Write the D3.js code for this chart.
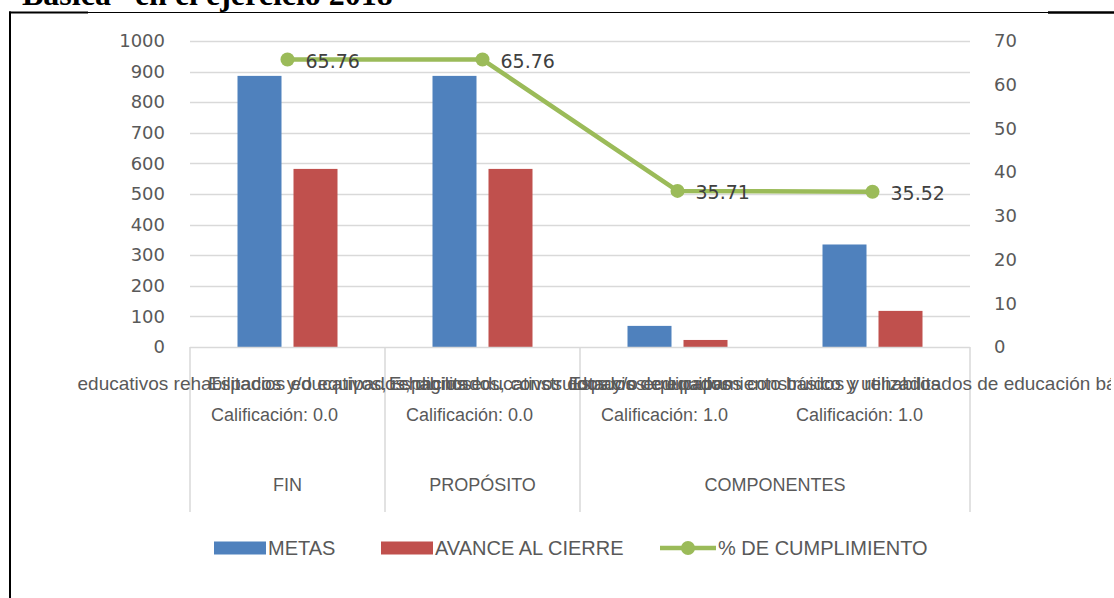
<!DOCTYPE html>
<html>
<head>
<meta charset="utf-8">
<script src="https://cdn.jsdelivr.net/npm/d3@7"></script>
<style>
  body { margin: 0; background: #fff; }
  svg text { font-family: "Liberation Sans", Arial, sans-serif; }
</style>
</head>
<body>
<div id="chart-area"></div>
<script>
/*  Metas vs avance - chart  */

// ---- data ----
var categories = ["c1", "c2", "c3", "c4"];
var catLabels = [
	"educativos rehabilitados y/o equipados, dignos",
	"Espacios educativos, rehabilitados, construidos y/o equipados",
	"Espacios educativos dotados de equipamiento básico y utilizados",
	"Espacios educativos construidos y rehabilitados de educación básica"
];
var catScores = ["Calificación: 0.0", "Calificación: 0.0", "Calificación: 1.0", "Calificación: 1.0"];
var groups = ["FIN", "PROPÓSITO", "COMPONENTES"];
var groupSpan = [1, 1, 2];
var metas = [886, 886, 69, 335];
var avance = [582, 582, 23, 118];
var cumplimiento = [65.76, 65.76, 35.71, 35.52];
var leftTicks = [0, 100, 200, 300, 400, 500, 600, 700, 800, 900, 1000];
var rightTicks = [0, 10, 20, 30, 40, 50, 60, 70];
var seriesNames = ["METAS", "AVANCE AL CIERRE", "% DE CUMPLIMIENTO"];
var colors = ["#4F81BD", "#C0504D", "#9BBB59"];

// ---- dimensions ----
var W = 1114, H = 598;
var plot = { left: 190, right: 970, top: 41, bottom: 347 };

var svg = d3.select("#chart-area")
	.append("svg")
		.attr("width", W)
		.attr("height", H);

svg.append("defs").append("clipPath")
	.attr("id", "clip")
	.append("rect")
		.attr("x", 12).attr("y", 0)
		.attr("width", 1099).attr("height", H);

// page frame / title bits
svg.append("text")
	.attr("x", 22)
	.attr("y", 5)
	.style("font-family", "'Liberation Serif', serif")
	.style("font-weight", "bold")
	.style("font-size", "32px")
	.attr("fill", "#000")
	.text("Básica” en el ejercicio 2018");

svg.append("line").attr("x1", 9).attr("x2", W).attr("y1", 12.5).attr("y2", 12.5)
	.attr("stroke", "#000").attr("stroke-width", 1);
svg.append("line").attr("x1", 9).attr("x2", 88).attr("y1", 12.5).attr("y2", 12.5)
	.attr("stroke", "#000").attr("stroke-width", 2);
svg.append("line").attr("x1", 1048).attr("x2", W).attr("y1", 12.5).attr("y2", 12.5)
	.attr("stroke", "#000").attr("stroke-width", 2.5);
svg.append("line").attr("x1", 10).attr("x2", 10).attr("y1", 11.5).attr("y2", H)
	.attr("stroke", "#000").attr("stroke-width", 2);

// ---- scales ----
var x = d3.scaleBand()
	.domain(categories)
	.range([plot.left, plot.right]);

// two bars of 44px, 12px apart, centred in each category
var x1 = d3.scaleBand()
	.domain([0, 1])
	.range([x.bandwidth() / 2 - 50, x.bandwidth() / 2 + 50])
	.paddingInner(12 / 56);

var y = d3.scaleLinear()
	.domain([0, 1000])
	.range([plot.bottom, plot.top]);

var y2 = d3.scaleLinear()
	.domain([0, 70])
	.range([plot.bottom, plot.top]);

// ---- gridlines ----
svg.append("g")
	.selectAll("line")
	.data(leftTicks.filter(function(d) { return d > 0; }))
	.enter().append("line")
		.attr("x1", plot.left)
		.attr("x2", plot.right)
		.attr("y1", function(d) { return Math.round(y(d)) + 0.5; })
		.attr("y2", function(d) { return Math.round(y(d)) + 0.5; })
		.attr("stroke", "#D9D9D9")
		.attr("stroke-width", 1.5);

// ---- axes ----
var yAxis = svg.append("g")
	.attr("transform", "translate(" + plot.left + ",0)")
	.call(d3.axisLeft(y).tickValues(leftTicks).tickFormat(d3.format("d")).tickSize(0).tickPadding(25));
yAxis.select(".domain").remove();
yAxis.selectAll("text")
	.attr("fill", "#595959")
	.style("font-family", "'DejaVu Sans', sans-serif")
	.style("font-size", "18px");

var yAxis2 = svg.append("g")
	.attr("transform", "translate(" + plot.right + ",0)")
	.call(d3.axisRight(y2).tickValues(rightTicks).tickSize(0).tickPadding(24));
yAxis2.select(".domain").remove();
yAxis2.selectAll("text")
	.attr("fill", "#595959")
	.style("font-family", "'DejaVu Sans', sans-serif")
	.style("font-size", "18px");

// ---- bars ----
var series = [metas, avance];
series.forEach(function(vals, s) {
	svg.append("g")
		.selectAll("rect")
		.data(vals)
		.enter().append("rect")
			.attr("x", function(d, i) { return x(categories[i]) + x1(s); })
			.attr("width", x1.bandwidth())
			.attr("y", function(d) { return y(d); })
			.attr("height", function(d) { return plot.bottom - y(d); })
			.attr("fill", colors[s]);
});

// ---- category axis (multi-level) ----
var axisG = svg.append("g");
axisG.append("line")
	.attr("x1", plot.left).attr("x2", plot.right)
	.attr("y1", plot.bottom + 0.5).attr("y2", plot.bottom + 0.5)
	.attr("stroke", "#D9D9D9").attr("stroke-width", 1.5);

var bounds = [0];
groupSpan.reduce(function(acc, n) { bounds.push(acc + n); return acc + n; }, 0);
axisG.selectAll(".sep")
	.data(bounds)
	.enter().append("line")
		.attr("class", "sep")
		.attr("x1", function(d) { return plot.left + d * x.bandwidth(); })
		.attr("x2", function(d) { return plot.left + d * x.bandwidth(); })
		.attr("y1", plot.bottom)
		.attr("y2", 512)
		.attr("stroke", "#D9D9D9")
		.attr("stroke-width", 1.5);

// long inner labels overflow and run into each other, as in the original
var labelG = axisG.append("g").attr("clip-path", "url(#clip)");
labelG.selectAll(".catl")
	.data(catLabels)
	.enter().append("text")
		.attr("class", "catl")
		.attr("x", function(d, i) { return x(categories[i]) + x.bandwidth() / 2 - 13; })
		.attr("y", 390)
		.attr("text-anchor", "middle")
		.attr("fill", "#595959")
		.style("font-size", "19px")
		.text(function(d) { return d; });

axisG.selectAll(".cats")
	.data(catScores)
	.enter().append("text")
		.attr("class", "cats")
		.attr("x", function(d, i) { return x(categories[i]) + x.bandwidth() / 2 - 13; })
		.attr("y", 421)
		.attr("text-anchor", "middle")
		.attr("fill", "#595959")
		.style("font-size", "18px")
		.text(function(d) { return d; });

axisG.selectAll(".grp")
	.data(groups)
	.enter().append("text")
		.attr("class", "grp")
		.attr("x", function(d, i) {
			return plot.left + (bounds[i] + groupSpan[i] / 2) * x.bandwidth();
		})
		.attr("y", 491)
		.attr("text-anchor", "middle")
		.attr("fill", "#595959")
		.style("font-size", "18px")
		.text(function(d) { return d; });

// ---- line series ----
var line = d3.line()
	.x(function(d, i) { return x(categories[i]) + x.bandwidth() / 2; })
	.y(function(d) { return y2(d); });

svg.append("path")
	.datum(cumplimiento)
	.attr("d", line)
	.attr("fill", "none")
	.attr("stroke", colors[2])
	.attr("stroke-width", 4.5)
	.attr("stroke-linejoin", "round");

svg.append("g")
	.selectAll("circle")
	.data(cumplimiento)
	.enter().append("circle")
		.attr("cx", function(d, i) { return x(categories[i]) + x.bandwidth() / 2; })
		.attr("cy", function(d) { return y2(d); })
		.attr("r", 7)
		.attr("fill", colors[2]);

svg.append("g")
	.selectAll("text")
	.data(cumplimiento)
	.enter().append("text")
		.attr("x", function(d, i) { return x(categories[i]) + x.bandwidth() / 2 + 18; })
		.attr("y", function(d) { return y2(d) + 8; })
		.attr("fill", "#404040")
		.style("font-family", "'DejaVu Sans', sans-serif")
		.style("font-size", "19px")
		.text(function(d) { return d3.format(".2f")(d); });

// ---- legend ----
var legend = svg.append("g");
var legendX = [214, 381, 660];
seriesNames.forEach(function(name, i) {
	var row = legend.append("g")
		.attr("transform", "translate(" + legendX[i] + ", 548)");
	if (i < 2) {
		row.append("rect")
			.attr("x", 0).attr("y", -6.5)
			.attr("width", 52).attr("height", 13)
			.attr("fill", colors[i]);
		row.append("text")
			.attr("x", 54).attr("y", 7)
			.attr("fill", "#595959")
			.style("font-size", "20px")
			.text(name);
	} else {
		row.append("line")
			.attr("x1", 0).attr("x2", 56)
			.attr("y1", 0).attr("y2", 0)
			.attr("stroke", colors[2]).attr("stroke-width", 4.5);
		row.append("circle")
			.attr("cx", 28).attr("cy", 0).attr("r", 7)
			.attr("fill", colors[2]);
		row.append("text")
			.attr("x", 58).attr("y", 7)
			.attr("fill", "#595959")
			.style("font-size", "20px")
			.text(name);
	}
});
</script>
</body>
</html>
